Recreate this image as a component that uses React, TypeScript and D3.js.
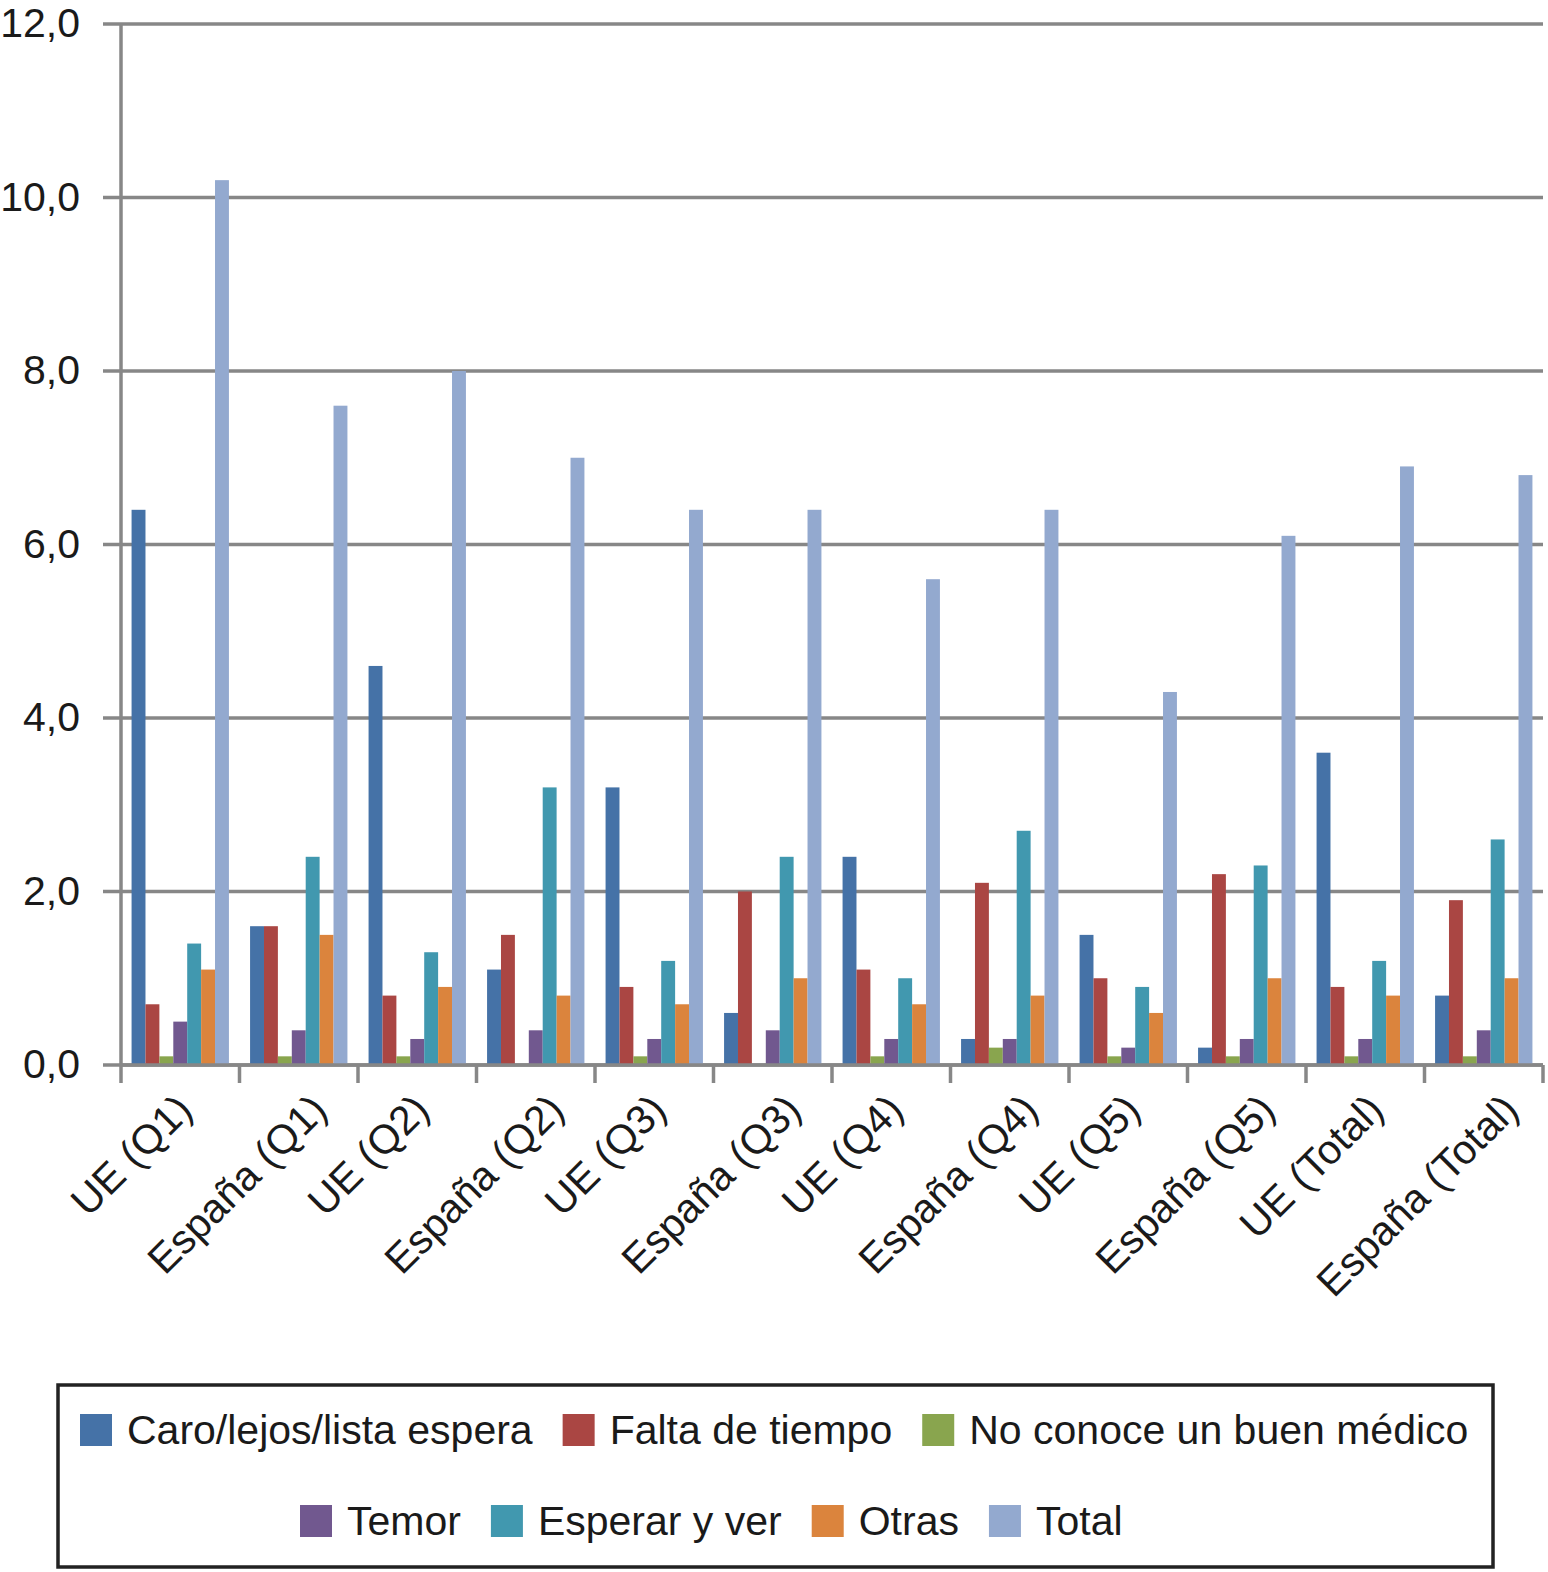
import * as d3 from 'd3';

const categories = [
  'UE (Q1)',
  'España (Q1)',
  'UE (Q2)',
  'España (Q2)',
  'UE (Q3)',
  'España (Q3)',
  'UE (Q4)',
  'España (Q4)',
  'UE (Q5)',
  'España (Q5)',
  'UE (Total)',
  'España (Total)',
];

const seriesNames = [
  'Caro/lejos/lista espera',
  'Falta de tiempo',
  'No conoce un buen médico',
  'Temor',
  'Esperar y ver',
  'Otras',
  'Total',
];

const seriesColors = ['#4572a7', '#aa4643', '#89a54e', '#71588f', '#4198af', '#db843d', '#93a9cf'];

// one array per series, in category order
const caroLejos = [6.4, 1.6, 4.6, 1.1, 3.2, 0.6, 2.4, 0.3, 1.5, 0.2, 3.6, 0.8];
const faltaTiempo = [0.7, 1.6, 0.8, 1.5, 0.9, 2.0, 1.1, 2.1, 1.0, 2.2, 0.9, 1.9];
const noConoce = [0.1, 0.1, 0.1, 0.0, 0.1, 0.0, 0.1, 0.2, 0.1, 0.1, 0.1, 0.1];
const temor = [0.5, 0.4, 0.3, 0.4, 0.3, 0.4, 0.3, 0.3, 0.2, 0.3, 0.3, 0.4];
const esperarVer = [1.4, 2.4, 1.3, 3.2, 1.2, 2.4, 1.0, 2.7, 0.9, 2.3, 1.2, 2.6];
const otras = [1.1, 1.5, 0.9, 0.8, 0.7, 1.0, 0.7, 0.8, 0.6, 1.0, 0.8, 1.0];
const total = [10.2, 7.6, 8.0, 7.0, 6.4, 6.4, 5.6, 6.4, 4.3, 6.1, 6.9, 6.8];

const seriesValues = [caroLejos, faltaTiempo, noConoce, temor, esperarVer, otras, total];

const yTicks = [0, 2, 4, 6, 8, 10, 12];

const width = 1548;
const height = 1572;
const fontFamily = "'Liberation Sans', Arial, Helvetica, sans-serif";
const fontSize = 41;
const gridColor = '#878787';

const plotLeft = 121;
const plotRight = 1543;
const plotTop = 24;
const plotBottom = 1065;

let measureCtx: CanvasRenderingContext2D | null = null;
function textWidth(s: string): number {
  if (!measureCtx) {
    measureCtx = document.createElement('canvas').getContext('2d');
  }
  if (!measureCtx) return s.length * fontSize * 0.5;
  measureCtx.font = `${fontSize}px ${fontFamily}`;
  return measureCtx.measureText(s).width;
}

// legend rows: index lists and where each row starts
const legendRows = [
  { items: [0, 1, 2], x: 80, y: 1414 },
  { items: [3, 4, 5, 6], x: 300, y: 1505 },
];

export default function App(): JSX.Element {
  const x0 = d3.scaleBand<string>().domain(categories).range([plotLeft, plotRight]).padding(0);
  const x1 = d3
    .scaleBand<number>()
    .domain(d3.range(seriesNames.length))
    .range([0, x0.bandwidth()])
    .paddingInner(0)
    .paddingOuter(0.76);
  const y = d3.scaleLinear().domain([0, 12]).range([plotBottom, plotTop]);

  const swatch = 32;

  return (
    <div style={{ position: 'absolute', left: 0, top: 0 }}>
      <svg width={width} height={height} style={{ display: 'block', background: '#fff' }}>
        {/* gridlines + y ticks */}
        {yTicks.map((t) => (
          <g key={t}>
            <line
              x1={plotLeft - 18}
              x2={plotRight}
              y1={y(t)}
              y2={y(t)}
              stroke={gridColor}
              strokeWidth={3.5}
            />
            <text
              x={80}
              y={y(t) + 13}
              textAnchor="end"
              fontFamily={fontFamily}
              fontSize={fontSize}
              fill="#1a1a1a"
            >
              {t.toFixed(1).replace('.', ',')}
            </text>
          </g>
        ))}

        {/* bars */}
        {categories.map((c, ci) => (
          <g key={c} transform={`translate(${x0(c)},0)`}>
            {seriesValues.map((vals, si) =>
              vals[ci] > 0 ? (
                <rect
                  key={si}
                  x={x1(si)}
                  width={x1.bandwidth()}
                  y={y(vals[ci])}
                  height={y(0) - y(vals[ci])}
                  fill={seriesColors[si]}
                />
              ) : null,
            )}
          </g>
        ))}

        {/* axes */}
        <line x1={plotLeft} x2={plotLeft} y1={plotTop} y2={plotBottom + 18} stroke={gridColor} strokeWidth={3.5} />
        <line x1={plotLeft} x2={plotRight} y1={plotBottom} y2={plotBottom} stroke={gridColor} strokeWidth={3.5} />
        {categories.map((c) => (
          <line
            key={c}
            x1={(x0(c) ?? 0) + x0.bandwidth()}
            x2={(x0(c) ?? 0) + x0.bandwidth()}
            y1={plotBottom}
            y2={plotBottom + 18}
            stroke={gridColor}
            strokeWidth={3.5}
          />
        ))}

        {/* category labels */}
        {categories.map((c) => {
          const cx = (x0(c) ?? 0) + x0.bandwidth() / 2;
          const L = textWidth(c);
          const ax = cx - 16 + L * 0.2;
          const ay = 1112;
          return (
            <text
              key={c}
              transform={`translate(${ax},${ay}) rotate(-45)`}
              textAnchor="end"
              fontFamily={fontFamily}
              fontSize={fontSize}
              fill="#1a1a1a"
            >
              {c}
            </text>
          );
        })}

        {/* legend */}
        <rect x={58} y={1385} width={1435} height={182} fill="none" stroke="#222" strokeWidth={3.5} />
        {legendRows.map((row, ri) => {
          let cur = row.x;
          return (
            <g key={ri}>
              {row.items.map((si) => {
                const sx = cur;
                const tw = textWidth(seriesNames[si]);
                cur = sx + swatch + 15 + tw + 30;
                return (
                  <g key={si}>
                    <rect x={sx} y={row.y} width={swatch} height={swatch} fill={seriesColors[si]} />
                    <text
                      x={sx + swatch + 15}
                      y={row.y + 30}
                      fontFamily={fontFamily}
                      fontSize={fontSize}
                      fill="#1a1a1a"
                    >
                      {seriesNames[si]}
                    </text>
                  </g>
                );
              })}
            </g>
          );
        })}
      </svg>
    </div>
  );
}
